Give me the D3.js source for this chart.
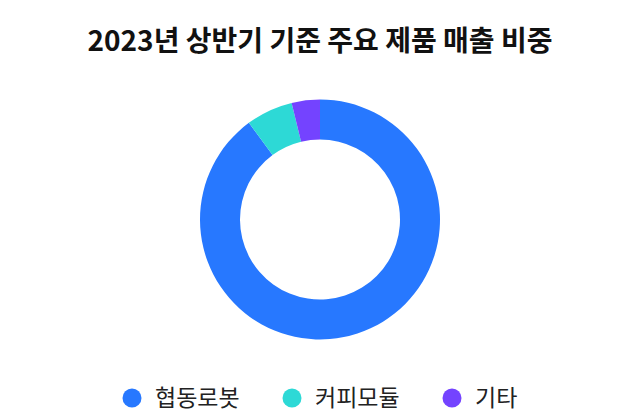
<!DOCTYPE html>
<html><head><meta charset="utf-8">
<script src="https://cdn.jsdelivr.net/npm/d3@7"></script>
<style>html,body{margin:0;padding:0;background:#fff;}svg{display:block;font-family:"Noto Sans CJK KR","Noto Sans",sans-serif;}</style>
</head><body>
<svg id="chart" width="640" height="416"></svg>
<script>
const title = "2023년 상반기 기준 주요 제품 매출 비중";
const categories = ["협동로봇", "커피모듈", "기타"];
const values = [89.9, 6.3, 3.8];
const colors = ["#2778FF", "#2DD9D6", "#7443FF"];

const svg = d3.select("#chart");
const W = 640, H = 416;
const cx = 320, cy = 219.5, outerR = 120, innerR = 80;

svg.append("text").attr("x", W/2).attr("y", 51).attr("text-anchor","middle")
  .attr("font-size", 28).attr("font-weight", 700).attr("fill", "#111").text(title);

const data = categories.map((c,i)=>({name:c, value:values[i]}));
const color = d3.scaleOrdinal().domain(categories).range(colors);
const pie = d3.pie().value(d=>d.value).sort(null);
const arc = d3.arc().innerRadius(innerR).outerRadius(outerR);

svg.append("g").attr("transform", `translate(${cx},${cy})`)
  .selectAll("path").data(pie(data)).join("path")
  .attr("d", arc).attr("fill", d=>color(d.data.name));

const legendX = d3.scalePoint().domain(categories).range([132, 452]);
const lg = svg.append("g").selectAll("g").data(categories).join("g")
  .attr("transform", d=>`translate(${legendX(d)},398)`);
lg.append("circle").attr("r", 9.5).attr("fill", d=>color(d));
lg.append("text").attr("x", 23).attr("y", 8).attr("font-size", 23)
  .attr("fill", "#222").text(d=>d);
</script>
</body></html>
